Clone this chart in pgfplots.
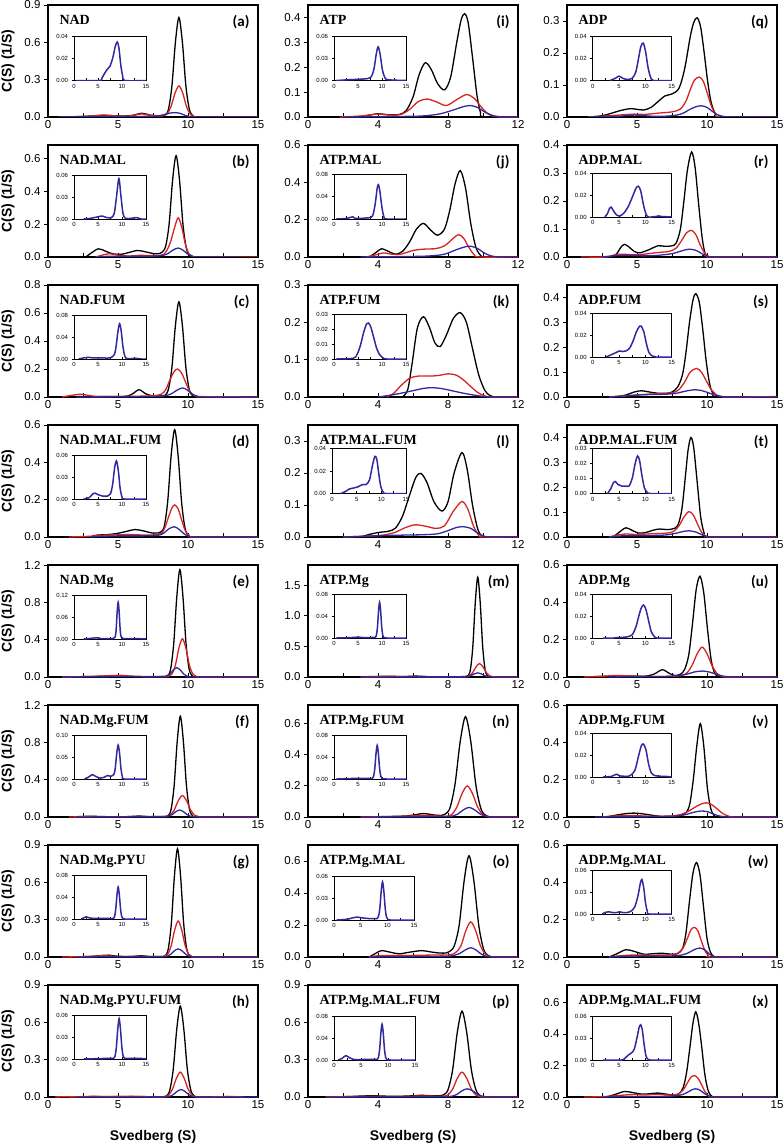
\documentclass[border=0pt]{standalone}
\usepackage{fontspec}
\setmainfont{Liberation Sans}
\newfontfamily\ttlfont{Liberation Serif}
\newfontfamily\lblfont{Carlito}
\usepackage{pgfplots}
\pgfplotsset{compat=1.18}
\definecolor{myred}{RGB}{215,35,35}
\definecolor{myblue}{RGB}{50,40,160}
\pgfplotsset{
  base/.style={scale only axis, anchor=north west, xmin=0, ymin=0, tick pos=left,
    xtick align=inside, ytick align=outside, scaled ticks=false,
    /pgf/number format/assume math mode=true,
    tick style={black, line width=0.8pt}, clip=true},
  main/.style={base, width=210pt, height=112pt,
    major tick length=4pt, minor tick length=4pt,
    axis line style={line width=1.1pt},
    tick label style={font=\fontsize{11.5}{13}\selectfont},
    yticklabel style={/pgf/number format/fixed, /pgf/number format/fixed zerofill, /pgf/number format/precision=1}},
  colA/.style={xmax=15, xtick={0,5,10,15}, minor xtick={2.5,7.5,12.5}},
  colB/.style={xmax=12, xtick={0,4,8,12}, minor xtick={2,6,10}},
  ins/.style={base, xmax=15, xtick={0,5,10,15}, minor xtick={2.5,7.5,12.5},
    major tick length=2.5pt, minor tick length=2.5pt,
    axis line style={line width=0.9pt},
    axis background/.style={fill=white},
    tick label style={font=\fontsize{6}{7}\selectfont},
    yticklabel style={/pgf/number format/fixed, /pgf/number format/fixed zerofill, /pgf/number format/precision=2}},
  blk/.style={black, line width=1.3pt, smooth, no markers},
  rd/.style={myred, line width=1.3pt, smooth, no markers},
  bl/.style={myblue, line width=1.3pt, smooth, no markers},
  ib/.style={myblue, line width=1.5pt, smooth, no markers},
}
\newcommand{\Panel}[9]{%
\begin{axis}[main,#4,name=#1,at={(#2pt,-#3pt)},ymax=#5,ytick={#6}]
\addplot[blk] coordinates {#7};
\addplot[rd] coordinates {#8};
\addplot[bl] coordinates {#9};
\end{axis}}
\newcommand{\Inset}[7]{%
\begin{axis}[ins,at={(#1pt,-#2pt)},width=#3pt,height=#4pt,ymax=#5,ytick={#6}]
\addplot[ib] coordinates {#7};
\end{axis}}
\newcommand{\Lab}[3]{%
\node[anchor=base west, font=\ttlfont\bfseries\fontsize{14}{16}\selectfont] at ([xshift=8pt,yshift=-19pt]#1.north west) {#2};
\node[anchor=base east, font=\lblfont\bfseries\fontsize{15}{17}\selectfont] at ([xshift=-5pt,yshift=-21pt]#1.north east) {#3};}
\begin{document}
\begin{tikzpicture}
\useasboundingbox (0,0) rectangle (784pt,-1146pt);
% ---------------- column 1 ----------------
\Panel{a}{48}{5}{colA}{0.9}{0,0.3,0.6,0.9}
{(2,0)(2.8,0.006)(3.5,0.01)(4.3,0.012)(5.2,0.008)(6.0,0.012)(6.7,0.03)(7.3,0.015)(7.9,0.01)(8.35,0.016)(8.6,0.06)(8.85,0.248)(9.1,0.6)(9.35,0.8)(9.6,0.6)(9.85,0.248)(10.1,0.06)(10.35,0.01)(10.7,0)(15,0)}
{(0.8,0)(2.5,0.004)(3.4,0.012)(4.0,0.016)(4.7,0.01)(5.5,0.006)(6.2,0.015)(6.7,0.025)(7.2,0.015)(7.8,0.008)(8.23,0.01)(8.51,0.025)(8.79,0.085)(9.07,0.19)(9.35,0.25)(9.63,0.19)(9.91,0.078)(10.19,0.019)(10.47,0.003)(10.9,0)(15,0)}
{(0.8,0)(2,0.003)(4,0.004)(6,0.004)(7.4,0.006)(8.0,0.012)(8.4,0.022)(8.75,0.032)(9.1,0.035)(9.45,0.029)(9.8,0.013)(10.15,0.003)(10.5,0)(15,0)}
\Inset{74}{36.5}{72}{44}{0.04}{0,0.02,0.04}
{(0.5,0)(5.3,0)(5.8,0.002)(6.3,0.006)(6.9,0.01)(7.5,0.013)(8.1,0.021)(8.6,0.031)(9.0,0.035)(9.35,0.03)(9.75,0.014)(10.15,0.004)(10.6,0)(15,0)}
\Lab{a}{NAD}{(a)}

\Panel{b}{48}{145}{colA}{0.685}{0,0.2,0.4,0.6}
{(2.7,0)(3.1,0.025)(3.6,0.05)(4.1,0.036)(4.6,0.02)(5.2,0.016)(5.8,0.028)(6.4,0.04)(7.0,0.031)(7.6,0.02)(8.0,0.022)(8.15,0.03)(8.4,0.064)(8.65,0.2)(8.9,0.47)(9.15,0.62)(9.4,0.465)(9.65,0.19)(9.9,0.047)(10.15,0.008)(10.5,0)(15,0)}
{(3.4,0)(3.9,0.012)(4.4,0.02)(5.0,0.011)(5.8,0.006)(6.5,0.01)(7.4,0.009)(8.0,0.01)(8.26,0.015)(8.52,0.045)(8.78,0.1)(9.04,0.18)(9.3,0.24)(9.56,0.18)(9.82,0.075)(10.08,0.018)(10.34,0.003)(10.8,0)(15,0)}
{(3.5,0)(4.5,0.005)(6,0.004)(7.5,0.005)(8.2,0.01)(8.55,0.02)(8.9,0.041)(9.3,0.055)(9.65,0.041)(10.0,0.017)(10.35,0.004)(10.8,0)(13.5,0)}
\Inset{74}{175}{72}{44}{0.06}{0,0.03,0.06}
{(2,0)(3.5,0.001)(5,0.003)(5.9,0.004)(6.8,0.002)(7.8,0.002)(8.4,0.008)(8.85,0.03)(9.35,0.055)(9.8,0.03)(10.2,0.008)(10.7,0.001)(12,0.001)(13,0.002)(14,0)(15,0)}
\Lab{b}{NAD.MAL}{(b)}

\Panel{c}{48}{285}{colA}{0.8}{0,0.2,0.4,0.6,0.8}
{(1,0)(2.5,0.004)(4,0.003)(5.5,0.005)(6.0,0.02)(6.5,0.052)(7.0,0.022)(7.5,0.008)(8.0,0.008)(8.35,0.012)(8.6,0.055)(8.85,0.21)(9.1,0.51)(9.35,0.68)(9.6,0.51)(9.85,0.21)(10.1,0.05)(10.35,0.008)(10.7,0)(15,0)}
{(1,0)(1.7,0.012)(2.3,0.02)(3.0,0.01)(3.6,0.003)(6,0.005)(7.2,0.008)(7.8,0.012)(8.1,0.02)(8.4,0.05)(8.7,0.12)(9.0,0.18)(9.25,0.2)(9.55,0.17)(9.85,0.1)(10.15,0.038)(10.5,0.01)(11,0.003)(12.5,0.002)(13.5,0.002)(14,0)(15,0)}
{(2,0)(6,0.002)(8,0.005)(8.5,0.012)(8.85,0.025)(9.2,0.048)(9.6,0.065)(9.95,0.05)(10.3,0.02)(10.65,0.005)(11,0)(15,0)}
\Inset{74}{315}{72}{44}{0.08}{0,0.04,0.08}
{(1,0)(2,0.002)(3,0.003)(4,0.002)(6,0.002)(7.5,0.002)(8.4,0.008)(8.8,0.025)(9.15,0.05)(9.5,0.064)(9.85,0.05)(10.2,0.022)(10.6,0.005)(11,0.001)(13,0.001)(14,0)(15,0)}
\Lab{c}{NAD.FUM}{(c)}

\Panel{d}{48}{425}{colA}{0.6}{0,0.2,0.4,0.6}
{(3,0)(3.5,0.01)(4.3,0.013)(5.0,0.02)(5.6,0.03)(6.2,0.04)(6.8,0.033)(7.4,0.022)(7.9,0.022)(8.05,0.027)(8.3,0.055)(8.55,0.19)(8.8,0.44)(9.05,0.575)(9.3,0.43)(9.55,0.18)(9.8,0.043)(10.05,0.007)(10.4,0)(15,0)}
{(1.5,0)(3,0.004)(4,0.01)(5,0.012)(6,0.013)(7,0.01)(7.7,0.012)(8.1,0.02)(8.35,0.05)(8.6,0.105)(8.85,0.155)(9.05,0.172)(9.3,0.15)(9.55,0.09)(9.8,0.035)(10.1,0.007)(10.5,0)(15,0)}
{(3,0)(4,0.004)(5,0.006)(6.5,0.006)(7.8,0.008)(8.25,0.02)(8.6,0.042)(9.0,0.055)(9.35,0.042)(9.7,0.018)(10.05,0.004)(10.5,0)(15,0)}
\Inset{74}{455}{72}{44}{0.06}{0,0.03,0.06}
{(2,0)(3.2,0.002)(3.9,0.007)(4.4,0.008)(5.0,0.006)(6.0,0.004)(7.0,0.004)(7.6,0.007)(8.05,0.02)(8.45,0.042)(8.85,0.052)(9.25,0.038)(9.6,0.015)(10.0,0.003)(10.5,0)(15,0)}
\Lab{d}{NAD.MAL.FUM}{(d)}

\Panel{e}{48}{565}{colA}{1.2}{0,0.4,0.8,1.2}
{(1,0)(3,0.005)(4.5,0.01)(5.5,0.01)(6.5,0.004)(8,0.004)(8.54,0.014)(8.76,0.086)(8.98,0.356)(9.2,0.86)(9.42,1.15)(9.64,0.86)(9.86,0.356)(10.08,0.086)(10.3,0.014)(10.6,0)(15,0)}
{(1,0)(3,0.006)(4.5,0.015)(5.2,0.018)(6,0.008)(7,0.003)(8.2,0.004)(8.6,0.006)(8.85,0.031)(9.1,0.127)(9.35,0.31)(9.6,0.41)(9.85,0.31)(10.1,0.127)(10.35,0.031)(10.6,0.005)(11,0)(15,0)}
{(1,0)(5,0.005)(8,0.004)(8.4,0.008)(8.7,0.03)(8.95,0.075)(9.2,0.1)(9.45,0.075)(9.7,0.031)(9.95,0.008)(10.3,0)(15,0)}
\Inset{74}{595}{72}{44}{0.12}{0,0.06,0.12}
{(2,0)(3,0.001)(4.3,0.003)(5,0.003)(5.7,0.001)(8,0.001)(8.5,0.004)(8.75,0.02)(9.0,0.075)(9.2,0.1)(9.4,0.075)(9.65,0.02)(9.9,0.004)(10.3,0.001)(13,0.001)(15,0)}
\Lab{e}{NAD.Mg}{(e)}

\Panel{f}{48}{705}{colA}{1.2}{0,0.4,0.8,1.2}
{(1.5,0)(3,0.008)(4,0.004)(5.5,0.003)(6.5,0.01)(7.3,0.003)(8.2,0.004)(8.57,0.013)(8.79,0.081)(9.01,0.335)(9.23,0.81)(9.45,1.08)(9.67,0.81)(9.89,0.335)(10.11,0.081)(10.33,0.013)(10.6,0)(15,0)}
{(1.5,0)(3,0.004)(5,0.002)(6.5,0.006)(8,0.005)(8.4,0.006)(8.7,0.017)(9.0,0.071)(9.3,0.173)(9.6,0.23)(9.9,0.173)(10.2,0.071)(10.5,0.017)(10.8,0.003)(11.2,0)(15,0)}
{(2,0)(5,0.003)(8,0.004)(8.28,0.004)(8.56,0.008)(8.84,0.023)(9.12,0.056)(9.4,0.075)(9.68,0.056)(9.96,0.023)(10.24,0.006)(10.52,0.001)(11,0)(15,0)}
\Inset{74}{735}{72}{44}{0.10}{0,0.05,0.10}
{(2.2,0)(3,0.004)(3.8,0.01)(4.5,0.006)(5.5,0.002)(6.3,0.004)(7.0,0.008)(7.7,0.006)(8.3,0.01)(8.6,0.025)(8.9,0.058)(9.2,0.077)(9.5,0.058)(9.8,0.022)(10.1,0.005)(10.5,0)(15,0)}
\Lab{f}{NAD.Mg.FUM}{(f)}

\Panel{g}{48}{845}{colA}{0.9}{0,0.3,0.6,0.9}
{(1,0)(3,0.004)(3.8,0.012)(4.3,0.015)(5,0.006)(6,0.004)(6.6,0.01)(7.3,0.004)(8,0.004)(8.37,0.01)(8.59,0.065)(8.81,0.27)(9.03,0.65)(9.25,0.87)(9.47,0.65)(9.69,0.27)(9.91,0.065)(10.13,0.01)(10.5,0)(15,0)}
{(1,0)(2.5,0.003)(4,0.01)(5,0.004)(6.5,0.005)(7.8,0.004)(8.3,0.005)(8.55,0.022)(8.8,0.09)(9.05,0.218)(9.3,0.29)(9.55,0.218)(9.8,0.09)(10.05,0.022)(10.3,0.003)(10.7,0)(15,0)}
{(2,0)(6,0.003)(7.8,0.002)(8.18,0.002)(8.46,0.005)(8.74,0.02)(9.02,0.049)(9.3,0.065)(9.58,0.049)(9.86,0.02)(10.14,0.005)(10.42,0.001)(11,0)(15,0)}
\Inset{74}{875}{72}{44}{0.08}{0,0.04,0.08}
{(1.5,0)(2,0.002)(2.5,0.004)(3.2,0.002)(4,0.001)(7,0.001)(8.2,0.001)(8.45,0.004)(8.7,0.018)(8.95,0.0435)(9.2,0.058)(9.45,0.0435)(9.7,0.018)(9.95,0.004)(10.2,0.001)(10.6,0)(15,0)}
\Lab{g}{NAD.Mg.PYU}{(g)}

\Panel{h}{48}{985}{colA}{0.9}{0,0.3,0.6,0.9}
{(1,0)(3.3,0.003)(6,0.004)(8,0.002)(8.45,0.009)(8.7,0.055)(8.95,0.226)(9.2,0.548)(9.45,0.73)(9.7,0.548)(9.95,0.226)(10.2,0.055)(10.45,0.009)(10.8,0)(15,0)}
{(0.5,0)(1,0.002)(2,0.001)(3.3,0.006)(4,0.002)(6,0.005)(7,0.002)(8,0.001)(8.33,0.002)(8.61,0.015)(8.89,0.062)(9.17,0.15)(9.45,0.2)(9.73,0.15)(10.01,0.062)(10.29,0.015)(10.57,0.002)(11,0)(12.3,0.002)(12.8,0.005)(13.5,0.002)(14,0)}
{(2,0)(8,0.001)(8.38,0.001)(8.66,0.0045)(8.94,0.019)(9.22,0.045)(9.5,0.06)(9.78,0.045)(10.06,0.019)(10.34,0.0045)(10.62,0.001)(11,0)(15,0)}
\Inset{74}{1015}{72}{44}{0.06}{0,0.03,0.06}
{(2,0)(7.8,0.001)(8.28,0.001)(8.56,0.004)(8.84,0.017)(9.12,0.041)(9.4,0.055)(9.68,0.041)(9.96,0.017)(10.24,0.004)(10.52,0.001)(11,0.0008)(14,0.0008)(15,0)}
\Lab{h}{NAD.Mg.PYU.FUM}{(h)}

% ---------------- column 2 ----------------
\Panel{i}{308}{5}{colB}{0.45}{0,0.1,0.2,0.3,0.4}
{(2.8,0)(3.4,0.006)(4.0,0.013)(4.6,0.009)(5.2,0.01)(5.6,0.025)(6.0,0.08)(6.35,0.17)(6.7,0.218)(7.05,0.19)(7.4,0.135)(7.8,0.109)(8.15,0.16)(8.5,0.3)(8.75,0.39)(8.95,0.415)(9.15,0.38)(9.4,0.24)(9.65,0.09)(9.85,0.02)(10.05,0)(12,0)}
{(1.8,0)(3,0.004)(4,0.012)(4.6,0.008)(5.3,0.01)(5.8,0.03)(6.3,0.062)(6.8,0.072)(7.3,0.062)(7.9,0.046)(8.5,0.07)(9.05,0.09)(9.5,0.075)(9.9,0.04)(10.3,0.012)(10.7,0.002)(11.2,0)(12,0)}
{(2,0)(5,0.002)(6.5,0.004)(7.5,0.012)(8.3,0.028)(8.9,0.042)(9.3,0.046)(9.7,0.038)(10.1,0.02)(10.6,0.005)(11.2,0)(12,0)}
\Inset{334}{36.5}{72}{44}{0.06}{0,0.03,0.06}
{(0.5,0)(3,0.001)(6,0.002)(7.6,0.004)(8.3,0.015)(8.8,0.036)(9.2,0.046)(9.6,0.036)(10.1,0.014)(10.6,0.004)(11.3,0.001)(15,0)}
\Lab{i}{ATP}{(i)}

\Panel{j}{308}{145}{colB}{0.6}{0,0.2,0.4,0.6}
{(3.5,0)(3.9,0.025)(4.2,0.044)(4.6,0.03)(5.0,0.015)(5.4,0.03)(5.8,0.08)(6.2,0.15)(6.6,0.18)(7.0,0.145)(7.4,0.117)(7.8,0.15)(8.1,0.25)(8.4,0.39)(8.7,0.463)(9.0,0.37)(9.3,0.18)(9.6,0.05)(9.9,0.005)(10.1,0)(12,0)}
{(3.3,0)(3.9,0.012)(4.3,0.022)(4.8,0.015)(5.3,0.015)(6,0.035)(6.6,0.042)(7.3,0.045)(7.8,0.06)(8.3,0.1)(8.6,0.12)(8.9,0.1)(9.2,0.05)(9.5,0.012)(9.8,0)(12,0)}
{(3,0)(6,0.003)(7,0.006)(7.8,0.015)(8.5,0.04)(9.0,0.055)(9.3,0.058)(9.7,0.045)(10.1,0.02)(10.5,0.005)(11,0)(12,0)}
\Inset{334}{174}{72}{45}{0.08}{0,0.04,0.08}
{(0.5,0)(2.5,0.001)(3.5,0.003)(3.9,0.004)(4.5,0.001)(7,0.002)(8,0.005)(8.55,0.025)(9.0,0.055)(9.25,0.061)(9.55,0.05)(10.0,0.02)(10.4,0.004)(10.9,0)(15,0)}
\Lab{j}{ATP.MAL}{(j)}

\Panel{k}{308}{285}{colB}{0.3}{0,0.1,0.2,0.3}
{(5.4,0)(5.7,0.02)(5.95,0.09)(6.25,0.185)(6.6,0.215)(6.95,0.185)(7.25,0.145)(7.55,0.135)(7.9,0.165)(8.3,0.21)(8.7,0.226)(9.05,0.2)(9.4,0.13)(9.75,0.06)(10.1,0.018)(10.4,0.004)(10.8,0)(12,0)}
{(4.5,0)(4.9,0.01)(5.3,0.03)(5.8,0.05)(6.3,0.056)(7.0,0.056)(7.5,0.058)(8.0,0.062)(8.5,0.058)(8.9,0.045)(9.3,0.028)(9.7,0.012)(10.1,0.003)(10.5,0)(12,0)}
{(4,0)(4.6,0.004)(5.3,0.01)(6.0,0.017)(6.6,0.023)(7.1,0.025)(7.7,0.022)(8.3,0.016)(8.9,0.01)(9.5,0.005)(10.1,0.001)(10.6,0)(12,0)}
\Inset{334}{314}{72}{45}{0.03}{0,0.01,0.02,0.03}
{(0.5,0)(4,0.0005)(4.8,0.003)(5.5,0.009)(6.2,0.018)(6.8,0.0235)(7.2,0.024)(7.7,0.021)(8.3,0.014)(8.9,0.007)(9.5,0.003)(10.2,0.0008)(11,0)(15,0)}
\Lab{k}{ATP.FUM}{(k)}

\Panel{l}{308}{425}{colB}{0.35}{0,0.1,0.2,0.3}
{(3,0)(3.5,0.008)(4.0,0.014)(4.6,0.018)(5.0,0.028)(5.4,0.065)(5.8,0.13)(6.15,0.185)(6.45,0.199)(6.8,0.17)(7.2,0.11)(7.65,0.081)(8.0,0.11)(8.35,0.2)(8.8,0.264)(9.1,0.21)(9.4,0.1)(9.7,0.025)(9.95,0.002)(10.2,0)(12,0)}
{(2,0)(3.5,0.003)(4.3,0.006)(5,0.015)(5.5,0.028)(6.1,0.038)(6.7,0.034)(7.3,0.027)(7.8,0.035)(8.3,0.08)(8.8,0.111)(9.15,0.085)(9.45,0.035)(9.75,0.006)(10.0,0)(12,0)}
{(2,0)(4,0.004)(5.5,0.006)(6.5,0.007)(7.4,0.01)(8.0,0.02)(8.5,0.03)(8.9,0.032)(9.3,0.027)(9.7,0.012)(10.1,0.002)(10.5,0)(12,0)}
\Inset{332}{448.5}{74}{45}{0.04}{0,0.02,0.04}
{(1.8,0)(2.8,0.002)(3.5,0.004)(4.5,0.005)(5.3,0.006)(6.2,0.008)(6.9,0.008)(7.6,0.012)(8.2,0.025)(8.7,0.033)(9.1,0.03)(9.5,0.017)(9.9,0.006)(10.4,0.001)(11,0)(15,0)}
\Lab{l}{ATP.MAL.FUM}{(l)}

\Panel{m}{308}{565}{colB}{1.83}{0,0.5,1.0,1.5}
{(1,0)(2,0.004)(3.5,0.006)(4.5,0.012)(5.5,0.008)(6.2,0.015)(7,0.004)(8.5,0.004)(9.0,0.01)(9.14,0.02)(9.28,0.12)(9.42,0.505)(9.56,1.22)(9.7,1.63)(9.84,1.22)(9.98,0.505)(10.12,0.12)(10.26,0.02)(10.5,0)(12,0)}
{(3,0)(4.5,0.006)(6.2,0.01)(7,0.004)(8.5,0.004)(9.0,0.005)(9.2,0.017)(9.4,0.068)(9.6,0.165)(9.8,0.22)(10.0,0.165)(10.2,0.068)(10.4,0.017)(10.6,0.003)(11,0)(12,0)}
{(3,0)(6,0.002)(8.5,0.002)(8.9,0.002)(9.1,0.005)(9.3,0.021)(9.5,0.051)(9.7,0.068)(9.9,0.051)(10.1,0.021)(10.3,0.005)(10.5,0.001)(11,0)(12,0)}
\Inset{334}{594}{72}{44}{0.08}{0,0.04,0.08}
{(0.5,0)(3,0.0005)(5,0.0015)(6.5,0.0005)(8,0.001)(8.62,0.001)(8.84,0.005)(9.06,0.02)(9.28,0.049)(9.5,0.065)(9.72,0.049)(9.94,0.02)(10.16,0.005)(10.38,0.001)(11,0)(15,0)}
\Lab{m}{ATP.Mg}{(m)}

\Panel{n}{308}{705}{colB}{0.72}{0,0.2,0.4,0.6}
{(2.7,0)(4,0.002)(5.5,0.006)(6.0,0.012)(6.6,0.022)(7.2,0.013)(7.6,0.01)(7.8,0.016)(8.1,0.055)(8.4,0.21)(8.7,0.487)(9.0,0.645)(9.3,0.487)(9.6,0.2)(9.9,0.048)(10.2,0.008)(10.6,0)(12,0)}
{(3,0)(5,0.003)(6.6,0.01)(7.5,0.006)(7.9,0.005)(8.2,0.015)(8.5,0.062)(8.8,0.15)(9.1,0.2)(9.4,0.15)(9.7,0.062)(10.0,0.015)(10.3,0.002)(10.7,0)(12,0)}
{(3,0)(6,0.002)(7.5,0.003)(7.92,0.003)(8.24,0.006)(8.56,0.019)(8.88,0.046)(9.2,0.062)(9.52,0.046)(9.84,0.019)(10.16,0.005)(10.48,0.001)(11,0)(12,0)}
\Inset{334}{735}{72}{44}{0.08}{0,0.04,0.08}
{(0.5,0)(4,0.001)(6,0.001)(7.5,0.001)(8.0,0.001)(8.25,0.005)(8.5,0.019)(8.75,0.046)(9.0,0.061)(9.25,0.046)(9.5,0.019)(9.75,0.005)(10.0,0.001)(11,0)(15,0)}
\Lab{n}{ATP.Mg.FUM}{(n)}

\Panel{o}{308}{845}{colB}{0.70}{0,0.2,0.4,0.6}
{(3.5,0)(3.9,0.025)(4.2,0.04)(4.7,0.03)(5.2,0.02)(5.8,0.03)(6.5,0.04)(7.0,0.032)(7.5,0.025)(7.9,0.025)(8.1,0.035)(8.36,0.07)(8.64,0.2)(8.92,0.475)(9.2,0.633)(9.48,0.475)(9.76,0.196)(10.04,0.047)(10.32,0.008)(10.7,0)(12,0)}
{(3.5,0)(4,0.008)(5,0.01)(6,0.01)(7,0.012)(7.8,0.012)(8.18,0.015)(8.46,0.03)(8.74,0.07)(9.02,0.165)(9.3,0.22)(9.58,0.165)(9.86,0.068)(10.14,0.017)(10.42,0.003)(10.8,0)(12,0)}
{(3.5,0)(5,0.002)(7,0.003)(8,0.005)(8.4,0.012)(8.7,0.024)(9.0,0.045)(9.3,0.058)(9.6,0.044)(9.9,0.018)(10.2,0.004)(10.5,0.001)(11,0)(12,0)}
\Inset{334}{876}{80}{44}{0.06}{0,0.03,0.06}
{(0.5,0)(2.5,0.001)(3.5,0.003)(4.3,0.004)(5.2,0.003)(6.5,0.002)(7.5,0.002)(8.1,0.002)(8.35,0.005)(8.6,0.016)(8.85,0.039)(9.1,0.052)(9.35,0.039)(9.6,0.016)(9.85,0.004)(10.1,0.001)(10.6,0)(15,0)}
\Lab{o}{ATP.Mg.MAL}{(o)}

\Panel{p}{308}{985}{colB}{0.9}{0,0.3,0.6,0.9}
{(1,0)(2.2,0.003)(3.5,0.01)(4.2,0.008)(5,0.005)(6.0,0.01)(6.5,0.014)(7.0,0.01)(7.5,0.01)(7.72,0.016)(7.99,0.055)(8.26,0.214)(8.53,0.518)(8.8,0.69)(9.07,0.518)(9.34,0.214)(9.61,0.052)(9.88,0.008)(10.2,0)(12,0)}
{(1,0)(2,0.003)(3.5,0.006)(5,0.004)(6.5,0.008)(7.5,0.006)(7.72,0.007)(7.99,0.016)(8.26,0.062)(8.53,0.15)(8.8,0.2)(9.07,0.15)(9.34,0.062)(9.61,0.015)(9.88,0.002)(10.2,0)(12,0)}
{(1,0)(5,0.002)(7.5,0.003)(7.9,0.003)(8.2,0.006)(8.5,0.02)(8.8,0.05)(9.1,0.066)(9.4,0.05)(9.7,0.02)(10.0,0.005)(10.3,0.001)(10.7,0)(12,0)}
\Inset{334}{1016}{81}{44}{0.08}{0,0.04,0.08}
{(0.8,0)(1.5,0.003)(2.2,0.008)(2.9,0.004)(3.6,0.001)(6,0.001)(7.5,0.001)(8.02,0.001)(8.24,0.005)(8.46,0.02)(8.68,0.049)(8.9,0.065)(9.12,0.049)(9.34,0.02)(9.56,0.005)(9.78,0.001)(10.5,0)(15,0)}
\Lab{p}{ATP.Mg.MAL.FUM}{(p)}

% ---------------- column 3 ----------------
\Panel{q}{567}{5}{colA}{0.35}{0,0.1,0.2,0.3}
{(1.7,0)(2.5,0.004)(3.2,0.012)(3.8,0.02)(4.5,0.026)(5.0,0.024)(5.5,0.022)(6.0,0.03)(6.5,0.048)(7.0,0.066)(7.5,0.072)(8.0,0.09)(8.4,0.15)(8.8,0.25)(9.05,0.295)(9.3,0.31)(9.55,0.28)(9.8,0.2)(10.05,0.11)(10.3,0.045)(10.6,0.01)(10.9,0)(15,0)}
{(1.5,0)(3,0.004)(4,0.007)(4.8,0.009)(5.5,0.008)(6.5,0.012)(7.5,0.016)(8.1,0.025)(8.5,0.05)(8.8,0.085)(9.1,0.115)(9.45,0.125)(9.75,0.11)(10.05,0.07)(10.35,0.03)(10.65,0.008)(11,0)(15,0)}
{(1.5,0)(3.5,0.002)(4.8,0.006)(5.5,0.004)(6.5,0.002)(7.5,0.004)(8.2,0.01)(8.7,0.022)(9.2,0.032)(9.6,0.035)(10.0,0.03)(10.4,0.017)(10.8,0.006)(11.3,0.001)(12,0)(15,0)}
\Inset{592.7}{36.5}{79}{44}{0.04}{0,0.02,0.04}
{(3.3,0)(4.3,0.002)(5.0,0.004)(5.7,0.002)(6.5,0.001)(7.5,0.002)(8.2,0.008)(8.7,0.02)(9.15,0.031)(9.6,0.034)(10.05,0.026)(10.5,0.012)(11,0.003)(11.6,0)(15,0)}
\Lab{q}{ADP}{(q)}

\Panel{r}{567}{145}{colA}{0.4}{0,0.1,0.2,0.3,0.4}
{(3.3,0)(3.6,0.015)(3.85,0.035)(4.1,0.045)(4.4,0.037)(4.8,0.02)(5.2,0.015)(5.8,0.025)(6.5,0.04)(7.0,0.038)(7.5,0.04)(7.8,0.05)(8.1,0.1)(8.35,0.2)(8.6,0.31)(8.9,0.375)(9.15,0.32)(9.4,0.19)(9.65,0.07)(9.85,0.015)(10.05,0)(15,0)}
{(1,0)(2.8,0)(3.4,0.008)(4.0,0.01)(4.7,0.008)(5.5,0.01)(6.5,0.016)(7.3,0.02)(7.8,0.032)(8.2,0.06)(8.55,0.087)(8.9,0.095)(9.2,0.08)(9.5,0.045)(9.8,0.016)(10.1,0.003)(10.4,0)(15,0)}
{(2.5,0)(3.5,0.005)(4.5,0.006)(5.5,0.004)(6.5,0.006)(7.5,0.012)(8.2,0.022)(8.7,0.028)(9.2,0.024)(9.6,0.013)(10.0,0.004)(10.4,0)(15,0)}
\Inset{592.7}{173}{79}{44}{0.04}{0,0.02,0.04}
{(2.3,0)(2.8,0.003)(3.2,0.008)(3.5,0.009)(3.9,0.006)(4.5,0.002)(5.2,0.001)(6.0,0.004)(6.8,0.01)(7.6,0.019)(8.2,0.026)(8.65,0.028)(9.1,0.024)(9.6,0.012)(10.1,0.003)(10.6,0)(12,0.0005)(12.5,0.001)(13,0.0005)(15,0)}
\Lab{r}{ADP.MAL}{(r)}

\Panel{s}{567}{285}{colA}{0.45}{0,0.1,0.2,0.3,0.4}
{(3.4,0)(4.2,0.008)(4.8,0.02)(5.3,0.025)(5.9,0.02)(6.5,0.015)(7.1,0.015)(7.5,0.02)(7.9,0.04)(8.25,0.09)(8.5,0.18)(8.75,0.3)(9.0,0.39)(9.2,0.415)(9.45,0.38)(9.7,0.27)(9.95,0.14)(10.2,0.05)(10.45,0.012)(10.8,0)(15,0)}
{(3,0)(4,0.005)(5,0.008)(6,0.012)(7,0.014)(7.6,0.018)(8.0,0.03)(8.4,0.06)(8.8,0.1)(9.25,0.115)(9.6,0.1)(9.95,0.065)(10.3,0.03)(10.65,0.01)(11,0.002)(11.5,0)(14,0.001)(15,0.002)}
{(3,0)(4.2,0.004)(5,0.008)(6,0.01)(7,0.011)(7.8,0.015)(8.5,0.024)(9.1,0.029)(9.6,0.026)(10.1,0.017)(10.6,0.007)(11.1,0.002)(11.6,0)(15,0)}
\Inset{592.7}{313}{79}{44}{0.04}{0,0.02,0.04}
{(2.5,0)(3.5,0.002)(4.4,0.004)(5.1,0.0055)(5.7,0.005)(6.3,0.0055)(7.0,0.008)(7.7,0.015)(8.3,0.023)(8.9,0.028)(9.2,0.028)(9.7,0.023)(10.2,0.012)(10.7,0.004)(11.3,0.001)(12,0)(15,0)}
\Lab{s}{ADP.FUM}{(s)}

\Panel{t}{567}{425}{colA}{0.45}{0,0.1,0.2,0.3,0.4}
{(3.3,0)(3.7,0.018)(4.2,0.037)(4.6,0.028)(5.1,0.016)(5.6,0.018)(6.2,0.028)(6.6,0.032)(7.1,0.03)(7.5,0.032)(7.9,0.045)(8.2,0.11)(8.45,0.24)(8.65,0.35)(8.85,0.4)(9.05,0.36)(9.3,0.22)(9.55,0.08)(9.8,0.015)(10.05,0)(15,0)}
{(3,0)(3.6,0.008)(4.2,0.012)(5,0.01)(6,0.013)(7,0.015)(7.6,0.022)(8.0,0.045)(8.35,0.08)(8.7,0.102)(9.0,0.09)(9.3,0.055)(9.6,0.02)(9.9,0.004)(10.3,0)(15,0)}
{(3,0)(4,0.005)(5,0.005)(6,0.006)(7,0.008)(7.7,0.014)(8.2,0.021)(8.7,0.025)(9.2,0.02)(9.6,0.01)(10,0.003)(10.4,0)(15,0)}
\Inset{592.7}{448.5}{79}{45}{0.03}{0,0.01,0.02,0.03}
{(2.8,0)(3.4,0.003)(3.9,0.007)(4.3,0.008)(4.8,0.006)(5.5,0.005)(6.3,0.005)(6.9,0.005)(7.5,0.01)(8.0,0.019)(8.5,0.025)(8.9,0.022)(9.3,0.013)(9.8,0.004)(10.3,0.001)(11,0)(15,0)}
\Lab{t}{ADP.MAL.FUM}{(t)}

\Panel{u}{567}{565}{colA}{0.6}{0,0.2,0.4,0.6}
{(1.2,0)(2.5,0.003)(4,0.006)(5.5,0.004)(6.2,0.015)(6.8,0.039)(7.3,0.02)(7.7,0.008)(8.1,0.015)(8.4,0.04)(8.7,0.12)(8.97,0.29)(9.23,0.47)(9.5,0.54)(9.77,0.45)(10.03,0.26)(10.3,0.09)(10.55,0.02)(10.8,0.003)(11.1,0)(15,0)}
{(1.2,0)(2.5,0.004)(3.5,0.008)(4.5,0.006)(5.5,0.003)(7,0.003)(8.2,0.008)(8.6,0.025)(8.95,0.065)(9.3,0.125)(9.65,0.16)(10.0,0.125)(10.35,0.062)(10.7,0.02)(11.05,0.004)(11.5,0)(15,0)}
{(3,0)(5,0.002)(7,0.003)(8,0.008)(8.6,0.016)(9.1,0.027)(9.65,0.032)(10.2,0.026)(10.7,0.014)(11.2,0.004)(11.7,0.001)(12.5,0)(15,0)}
\Inset{592.7}{594}{79}{44}{0.04}{0,0.02,0.04}
{(2,0)(4,0)(5,0.0005)(6.5,0.001)(7.5,0.003)(8.2,0.01)(8.7,0.019)(9.2,0.027)(9.65,0.03)(10.1,0.026)(10.6,0.016)(11.1,0.006)(11.6,0.002)(12.2,0)(15,0)}
\Lab{u}{ADP.Mg}{(u)}

\Panel{v}{567}{705}{colA}{0.6}{0,0.2,0.4,0.6}
{(2.8,0)(3.5,0.01)(4.2,0.018)(4.8,0.021)(5.5,0.016)(6.2,0.008)(6.9,0.002)(7.5,0.003)(8.1,0.008)(8.52,0.025)(8.77,0.07)(9.02,0.2)(9.27,0.38)(9.52,0.5)(9.77,0.38)(10.02,0.16)(10.27,0.045)(10.52,0.008)(10.8,0)(15,0)}
{(2.5,0)(3.3,0.005)(4,0.008)(5,0.007)(6,0.004)(7.5,0.006)(8.2,0.015)(8.7,0.032)(9.2,0.055)(9.6,0.07)(9.95,0.076)(10.3,0.068)(10.7,0.045)(11.1,0.02)(11.5,0.006)(12,0)(15,0)}
{(2,0)(4,0.002)(5.5,0.002)(7.5,0.004)(8.3,0.01)(8.8,0.02)(9.2,0.028)(9.6,0.032)(10.0,0.029)(10.4,0.018)(10.8,0.007)(11.2,0.002)(11.7,0)(15,0)}
\Inset{592.7}{733}{79}{44}{0.04}{0,0.02,0.04}
{(2,0)(3.5,0.0005)(4.2,0.002)(4.6,0.0025)(5.2,0.001)(7,0.001)(8.0,0.006)(8.6,0.017)(9.2,0.028)(9.6,0.03)(10.1,0.025)(10.6,0.012)(11.1,0.004)(11.7,0.0015)(12.5,0.0008)(14,0.0005)(15,0)}
\Lab{v}{ADP.Mg.FUM}{(v)}

\Panel{w}{567}{845}{colA}{0.6}{0,0.2,0.4,0.6}
{(3,0)(3.5,0.015)(4.2,0.039)(4.8,0.03)(5.5,0.015)(6.2,0.018)(6.8,0.02)(7.5,0.015)(7.9,0.018)(8.25,0.045)(8.5,0.13)(8.75,0.3)(9.0,0.45)(9.25,0.506)(9.5,0.44)(9.75,0.27)(10.0,0.1)(10.25,0.025)(10.5,0.003)(10.8,0)(15,0)}
{(3,0)(3.7,0.006)(4.5,0.01)(5.5,0.01)(6.5,0.01)(7.3,0.012)(7.9,0.02)(8.3,0.05)(8.6,0.1)(8.85,0.145)(9.1,0.159)(9.35,0.14)(9.6,0.085)(9.85,0.035)(10.1,0.008)(10.4,0)(15,0)}
{(3,0)(4,0.004)(5.5,0.005)(7,0.005)(8,0.008)(8.6,0.02)(9.1,0.04)(9.5,0.048)(9.85,0.038)(10.15,0.017)(10.45,0.004)(10.8,0)(15,0)}
\Inset{592.7}{870}{79}{44}{0.06}{0,0.03,0.06}
{(1.8,0)(2.3,0.002)(3,0.003)(3.8,0.002)(4.5,0.002)(5.1,0.003)(5.7,0.002)(6.5,0.002)(7.3,0.004)(8.0,0.01)(8.6,0.025)(9.05,0.042)(9.35,0.047)(9.7,0.035)(10.05,0.014)(10.4,0.003)(10.8,0)(15,0)}
\Lab{w}{ADP.Mg.MAL}{(w)}

\Panel{x}{567}{985}{colA}{0.71}{0,0.2,0.4,0.6}
{(2.8,0)(3.4,0.015)(4.1,0.035)(4.7,0.028)(5.4,0.018)(6.0,0.022)(6.5,0.025)(7.1,0.018)(7.6,0.012)(8.0,0.02)(8.3,0.06)(8.55,0.16)(8.8,0.33)(9.0,0.47)(9.2,0.54)(9.4,0.47)(9.62,0.32)(9.85,0.14)(10.1,0.035)(10.35,0.005)(10.6,0)(15,0)}
{(1.2,0)(2.5,0.002)(3.5,0.008)(4.5,0.015)(5.5,0.015)(6.5,0.016)(7.3,0.012)(7.9,0.018)(8.3,0.045)(8.6,0.09)(8.85,0.125)(9.1,0.136)(9.35,0.12)(9.6,0.08)(9.85,0.035)(10.1,0.009)(10.4,0)(13,0)(14.8,0)}
{(2.5,0)(4,0.003)(5.5,0.004)(7,0.004)(8,0.01)(8.5,0.025)(8.9,0.045)(9.2,0.052)(9.5,0.043)(9.85,0.02)(10.2,0.005)(10.6,0)(15,0)}
\Inset{592.7}{1016}{79}{44}{0.06}{0,0.03,0.06}
{(2,0)(5.5,0)(6.2,0.003)(6.8,0.007)(7.4,0.01)(7.9,0.015)(8.4,0.03)(8.8,0.044)(9.1,0.048)(9.4,0.042)(9.75,0.022)(10.1,0.006)(10.5,0.001)(11,0)(15,0)}
\Lab{x}{ADP.Mg.MAL.FUM}{(x)}

% ---------------- axis titles ----------------
\foreach \n in {a,b,c,d,e,f,g,h}{
  \node[rotate=90, font=\bfseries\fontsize{14}{16}\selectfont] at ([xshift=-40pt]\n.west) {C(S) (1/S)};
}
\foreach \n in {h,p,x}{
  \node[font=\bfseries\fontsize{14}{16}\selectfont] at ([yshift=-40pt]\n.south) {Svedberg (S)};
}
\end{tikzpicture}
\end{document}
